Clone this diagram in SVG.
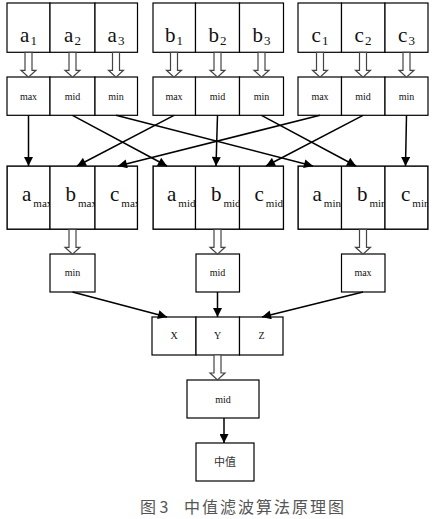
<svg xmlns="http://www.w3.org/2000/svg" xmlns:xlink="http://www.w3.org/1999/xlink" width="432" height="519" viewBox="0 0 432 519">
<style>
.box{fill:#fff;stroke:#000;stroke-width:1.2}
.big{font-family:"Liberation Serif",serif;font-size:21px;fill:#111}
.big3{font-family:"Liberation Serif",serif;font-size:21px;fill:#111}
.sub{font-size:13px}
.sub3{font-size:11px}
.sm{font-family:"Liberation Serif",serif;font-size:10px;fill:#111;text-anchor:middle}
.cjk{font-family:"Noto Sans CJK SC",sans-serif;fill:#333}
.con line{stroke:#000;stroke-width:1.5;marker-end:url(#ah)}
.hol{fill:#fff;stroke:#444;stroke-width:1.2}
</style>
<defs>
<marker id="ah" viewBox="0 0 10 10" refX="10" refY="5" markerWidth="10" markerHeight="9" orient="auto" markerUnits="userSpaceOnUse"><path d="M0,0 L10,5 L0,10 Z" fill="#000"/></marker>
<path id="hollow" class="hol" d="M-3.5,0 V18 H-7.5 L0,25 L7.5,18 H3.5 V0 Z"/>
<clipPath id="gA"><rect x="7" y="166" width="130.5" height="63.3"/></clipPath>
<clipPath id="gB"><rect x="153" y="166" width="130.5" height="63.3"/></clipPath>
<clipPath id="gC"><rect x="298" y="166" width="130" height="63.3"/></clipPath>
</defs>
<rect width="432" height="519" fill="#fff"/>

<!-- Row 1 inputs -->
<g id="a1"><rect class="box" x="7" y="3" width="43" height="49.3"/><text class="big" x="28.5" y="42" text-anchor="middle">a<tspan class="sub" dx="1" dy="3">1</tspan></text></g>
<g id="a2"><rect class="box" x="50" y="3" width="45" height="49.3"/><text class="big" x="72.5" y="42" text-anchor="middle">a<tspan class="sub" dx="1" dy="3">2</tspan></text></g>
<g id="a3"><rect class="box" x="95" y="3" width="42.5" height="49.3"/><text class="big" x="116" y="42" text-anchor="middle">a<tspan class="sub" dx="1" dy="3">3</tspan></text></g>
<g id="b1"><rect class="box" x="153" y="3" width="42.5" height="49.3"/><text class="big" x="174" y="42" text-anchor="middle">b<tspan class="sub" dx="1" dy="3">1</tspan></text></g>
<g id="b2"><rect class="box" x="195.5" y="3" width="44" height="49.3"/><text class="big" x="217.5" y="42" text-anchor="middle">b<tspan class="sub" dx="1" dy="3">2</tspan></text></g>
<g id="b3"><rect class="box" x="239.5" y="3" width="44" height="49.3"/><text class="big" x="261.5" y="42" text-anchor="middle">b<tspan class="sub" dx="1" dy="3">3</tspan></text></g>
<g id="c1"><rect class="box" x="298" y="3" width="43.5" height="49.3"/><text class="big" x="320" y="42" text-anchor="middle">c<tspan class="sub" dx="1" dy="3">1</tspan></text></g>
<g id="c2"><rect class="box" x="341.5" y="3" width="43.5" height="49.3"/><text class="big" x="363" y="42" text-anchor="middle">c<tspan class="sub" dx="1" dy="3">2</tspan></text></g>
<g id="c3"><rect class="box" x="385" y="3" width="43" height="49.3"/><text class="big" x="406.5" y="42" text-anchor="middle">c<tspan class="sub" dx="1" dy="3">3</tspan></text></g>

<!-- Row 2 sorters -->
<g id="a-max"><rect class="box" x="7" y="77" width="43" height="38.3"/><text class="sm" x="28.5" y="100">max</text></g>
<g id="a-mid"><rect class="box" x="50" y="77" width="45" height="38.3"/><text class="sm" x="72.5" y="100">mid</text></g>
<g id="a-min"><rect class="box" x="95" y="77" width="42.5" height="38.3"/><text class="sm" x="116" y="100">min</text></g>
<g id="b-max"><rect class="box" x="153" y="77" width="42.5" height="38.3"/><text class="sm" x="174" y="100">max</text></g>
<g id="b-mid"><rect class="box" x="195.5" y="77" width="44" height="38.3"/><text class="sm" x="217.5" y="100">mid</text></g>
<g id="b-min"><rect class="box" x="239.5" y="77" width="44" height="38.3"/><text class="sm" x="261.5" y="100">min</text></g>
<g id="c-max"><rect class="box" x="298" y="77" width="43.5" height="38.3"/><text class="sm" x="320" y="100">max</text></g>
<g id="c-mid"><rect class="box" x="341.5" y="77" width="43.5" height="38.3"/><text class="sm" x="363" y="100">mid</text></g>
<g id="c-min"><rect class="box" x="385" y="77" width="43" height="38.3"/><text class="sm" x="406.5" y="100">min</text></g>

<!-- Row 3 groups -->
<g clip-path="url(#gA)">
<g id="amax"><rect class="box" x="7" y="166" width="43" height="63.3"/><text class="big3" x="22" y="201">a<tspan class="sub3" dx="2" dy="6">max</tspan></text></g>
<g id="bmax"><rect class="box" x="50" y="166" width="45" height="63.3"/><text class="big3" x="65.5" y="201">b<tspan class="sub3" dx="2" dy="6">max</tspan></text></g>
<g id="cmax"><rect class="box" x="95" y="166" width="42.5" height="63.3"/><text class="big3" x="110" y="201">c<tspan class="sub3" dx="2" dy="6">max</tspan></text></g>
</g>
<rect x="7" y="166" width="130.5" height="63.3" fill="none" stroke="#000" stroke-width="1.2"/>
<g clip-path="url(#gB)">
<g id="amid"><rect class="box" x="153" y="166" width="42.5" height="63.3"/><text class="big3" x="167" y="201">a<tspan class="sub3" dx="2" dy="6">mid</tspan></text></g>
<g id="bmid"><rect class="box" x="195.5" y="166" width="44" height="63.3"/><text class="big3" x="211" y="201">b<tspan class="sub3" dx="2" dy="6">mid</tspan></text></g>
<g id="cmid"><rect class="box" x="239.5" y="166" width="44" height="63.3"/><text class="big3" x="254.5" y="201">c<tspan class="sub3" dx="2" dy="6">mid</tspan></text></g>
</g>
<rect x="153" y="166" width="130.5" height="63.3" fill="none" stroke="#000" stroke-width="1.2"/>
<g clip-path="url(#gC)">
<g id="amin"><rect class="box" x="298" y="166" width="43.5" height="63.3"/><text class="big3" x="312.5" y="201">a<tspan class="sub3" dx="2" dy="6">min</tspan></text></g>
<g id="bmin"><rect class="box" x="341.5" y="166" width="43.5" height="63.3"/><text class="big3" x="357" y="201">b<tspan class="sub3" dx="2" dy="6">min</tspan></text></g>
<g id="cmin"><rect class="box" x="385" y="166" width="43" height="63.3"/><text class="big3" x="401" y="201">c<tspan class="sub3" dx="2" dy="6">min</tspan></text></g>
</g>
<rect x="298" y="166" width="130" height="63.3" fill="none" stroke="#000" stroke-width="1.2"/>

<!-- Row 4 -->
<g id="min4"><rect class="box" x="50" y="254" width="45" height="38"/><text class="sm" x="72.5" y="276">min</text></g>
<g id="mid4"><rect class="box" x="196" y="254" width="43.5" height="38"/><text class="sm" x="217.5" y="276">mid</text></g>
<g id="max4"><rect class="box" x="341.5" y="254" width="43.5" height="38"/><text class="sm" x="363" y="276">max</text></g>

<!-- Row 5 -->
<g id="X"><rect class="box" x="152" y="317" width="44" height="38"/><text class="sm" x="174" y="339">X</text></g>
<g id="Y"><rect class="box" x="196" y="317" width="43.5" height="38"/><text class="sm" x="217.5" y="339">Y</text></g>
<g id="Z"><rect class="box" x="239.5" y="317" width="43.5" height="38"/><text class="sm" x="261.5" y="339">Z</text></g>

<g id="mid6"><rect class="box" x="187" y="380" width="72" height="38"/><text class="sm" x="223" y="403">mid</text></g>
<g id="median"><rect class="box" x="196" y="443" width="58" height="38"/><text class="cjk" x="225" y="466" font-size="11" text-anchor="middle">中值</text></g>

<!-- connectors -->
<g id="connectors">
<g id="hollow-arrows">
<use xlink:href="#hollow" x="28.5" y="52.3"/>
<use xlink:href="#hollow" x="72.5" y="52.3"/>
<use xlink:href="#hollow" x="116" y="52.3"/>
<use xlink:href="#hollow" x="174" y="52.3"/>
<use xlink:href="#hollow" x="217.5" y="52.3"/>
<use xlink:href="#hollow" x="261.5" y="52.3"/>
<use xlink:href="#hollow" x="320" y="52.3"/>
<use xlink:href="#hollow" x="363" y="52.3"/>
<use xlink:href="#hollow" x="406.5" y="52.3"/>
<use xlink:href="#hollow" x="72.5" y="229.3"/>
<use xlink:href="#hollow" x="217.5" y="229.3"/>
<use xlink:href="#hollow" x="363" y="229.3"/>
<use xlink:href="#hollow" x="217.5" y="355"/>
</g>
<g class="con">
<line x1="28.5" y1="115.3" x2="28.5" y2="166"/>
<line x1="174" y1="115.3" x2="77" y2="166"/>
<line x1="320" y1="115.3" x2="118" y2="166"/>
<line x1="72.5" y1="115.3" x2="167" y2="166"/>
<line x1="217.5" y1="115.3" x2="216" y2="166"/>
<line x1="363" y1="115.3" x2="266" y2="166"/>
<line x1="116" y1="115.3" x2="313" y2="166"/>
<line x1="261.5" y1="115.3" x2="356" y2="166"/>
<line x1="406.5" y1="115.3" x2="405.5" y2="166"/>
<line x1="72.5" y1="292" x2="167" y2="317"/>
<line x1="217.5" y1="292" x2="217.5" y2="317"/>
<line x1="363" y1="292" x2="262" y2="317"/>
<line x1="224" y1="418" x2="224" y2="443"/>
</g>
</g>

<!-- caption -->
<text class="cjk" x="140" y="513" font-size="16" style="fill:#555">图 3</text>
<text class="cjk" x="184" y="513" font-size="16" letter-spacing="2" style="fill:#555">中值滤波算法原理图</text>
</svg>
